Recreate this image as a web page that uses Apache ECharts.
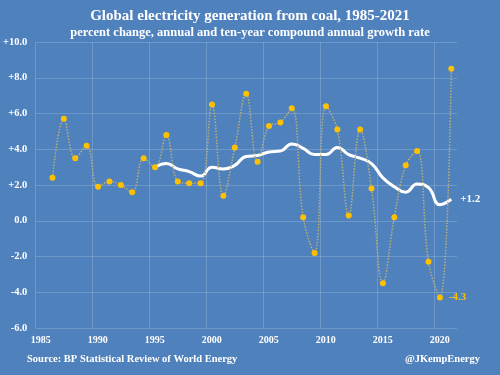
<!DOCTYPE html>
<html>
<head>
<meta charset="utf-8">
<script src="https://cdn.jsdelivr.net/npm/echarts@6/dist/echarts.min.js"></script>
<style>
  html, body { margin: 0; padding: 0; background: #4F81BD; }
  #chart { width: 500px; height: 375px; }
</style>
</head>
<body>
<div id="chart"></div>
<script>
// years of the annual change series
var years = [1986, 1987, 1988, 1989, 1990, 1991, 1992, 1993, 1994, 1995,
	1996, 1997, 1998, 1999, 2000, 2001, 2002, 2003, 2004, 2005,
	2006, 2007, 2008, 2009, 2010, 2011, 2012, 2013, 2014, 2015,
	2016, 2017, 2018, 2019, 2020, 2021];
// annual % change
var annual_change = [2.4, 5.7, 3.5, 4.2, 1.9, 2.2, 2.0, 1.6, 3.5, 3.0,
	4.8, 2.2, 2.1, 2.1, 6.5, 1.4, 4.1, 7.1, 3.3, 5.3,
	5.5, 6.3, 0.2, -1.8, 6.4, 5.1, 0.3, 5.1, 1.8, -3.5,
	0.2, 3.1, 3.9, -2.3, -4.3, 8.5];
// ten-year compound annual growth rate (from 1995)
var cagr_years = [1995, 1996, 1997, 1998, 1999, 2000, 2001, 2002, 2003, 2004,
	2005, 2006, 2007, 2008, 2009, 2010, 2011, 2012, 2013, 2014,
	2015, 2016, 2017, 2018, 2019, 2020, 2021];
var ten_year_cagr = [3.0, 3.2, 2.9, 2.75, 2.5, 3.0, 2.9, 3.1, 3.6, 3.65,
	3.85, 3.9, 4.3, 4.05, 3.7, 3.7, 4.1, 3.7, 3.5, 3.2,
	2.4, 1.9, 1.6, 2.05, 1.85, 0.9, 1.2];
var x_min = 1985, x_max = 2022;

var serif = '"Liberation Serif", "DejaVu Serif", serif';
var gold = '#FFC000';

// points are plotted mid-year
var annual_data = [];
for (var i = 0; i < years.length; i++) {
	var item = { value: [years[i] + 0.5, annual_change[i]] };
	if (years[i] === 2020) {
		item.label = {
			show: true, position: 'right', distance: 6,
			formatter: function(p){ return p.value[1].toFixed(1); },
			color: gold, fontFamily: serif, fontWeight: 'bold', fontSize: 11
		};
	}
	annual_data.push(item);
}
var cagr_data = [];
for (var j = 0; j < cagr_years.length; j++) {
	var c = { value: [cagr_years[j] + 0.5, ten_year_cagr[j]] };
	if (j === cagr_years.length - 1) {
		c.label = {
			show: true, position: 'right', distance: 9,
			formatter: function(p){ return '+' + p.value[1].toFixed(1); },
			color: '#fff', fontFamily: serif, fontWeight: 'bold', fontSize: 11
		};
	}
	cagr_data.push(c);
}

var chart = echarts.init(document.getElementById('chart'));
var option = {
	backgroundColor: '#4F81BD',
	animation: false,
	title: [{
		text: 'Global electricity generation from coal, 1985-2021',
		left: 'center', top: 4,
		textStyle: { color: '#fff', fontFamily: serif, fontWeight: 'bold', fontSize: 15 }
	}, {
		text: 'percent change, annual and ten-year compound annual growth rate',
		left: 'center', top: 21,
		textStyle: { color: '#fff', fontFamily: serif, fontWeight: 'bold', fontSize: 12.5 }
	}],
	graphic: [{
		type: 'text', left: 27, top: 354,
		style: { text: 'Source: BP Statistical Review of World Energy', fill: '#fff',
			font: 'bold 10.5px ' + serif }
	}, {
		type: 'text', right: 20, top: 354,
		style: { text: '@JKempEnergy', fill: '#fff', font: 'bold 10.5px ' + serif }
	}],
	grid: { left: 33, right: 43, top: 42, bottom: 47 },
	xAxis: {
		type: 'value', min: x_min, max: x_max, interval: 5,
		axisLine: { show: false },
		axisTick: { show: false },
		splitLine: { show: true, showMaxLine: false, lineStyle: { color: 'rgba(255,255,255,0.18)', width: 1 } },
		axisLabel: {
			color: '#fff', fontFamily: serif, fontWeight: 'bold', fontSize: 10,
			margin: 7, padding: [0, 0, 0, 11], showMaxLabel: false,
			formatter: function(v){ return v % 5 === 0 ? String(v) : ''; }
		}
	},
	yAxis: {
		type: 'value', min: -6, max: 10, interval: 2,
		axisLine: { show: false },
		axisTick: { show: false },
		splitLine: { show: true, lineStyle: { color: 'rgba(255,255,255,0.18)', width: 1 } },
		axisLabel: {
			color: '#fff', fontFamily: serif, fontWeight: 'bold', fontSize: 10.5, margin: 8,
			formatter: function(v){ return v > 0 ? '+' + v.toFixed(1) : v.toFixed(1); }
		}
	},
	series: [{
		name: 'annual',
		type: 'line',
		data: annual_data,
		smooth: 0.4,
		symbol: 'circle',
		symbolSize: 6,
		itemStyle: { color: gold },
		lineStyle: { color: '#B9AE78', width: 1.5, type: 'dotted' },
		z: 3
	}, {
		name: 'ten-year',
		type: 'line',
		data: cagr_data,
		smooth: 0.5,
		symbol: 'circle',
		symbolSize: 0,
		showSymbol: true,
		itemStyle: { color: '#fff' },
		lineStyle: { color: '#fff', width: 3 },
		z: 2
	}]
};
chart.setOption(option);
</script>
</body>
</html>
